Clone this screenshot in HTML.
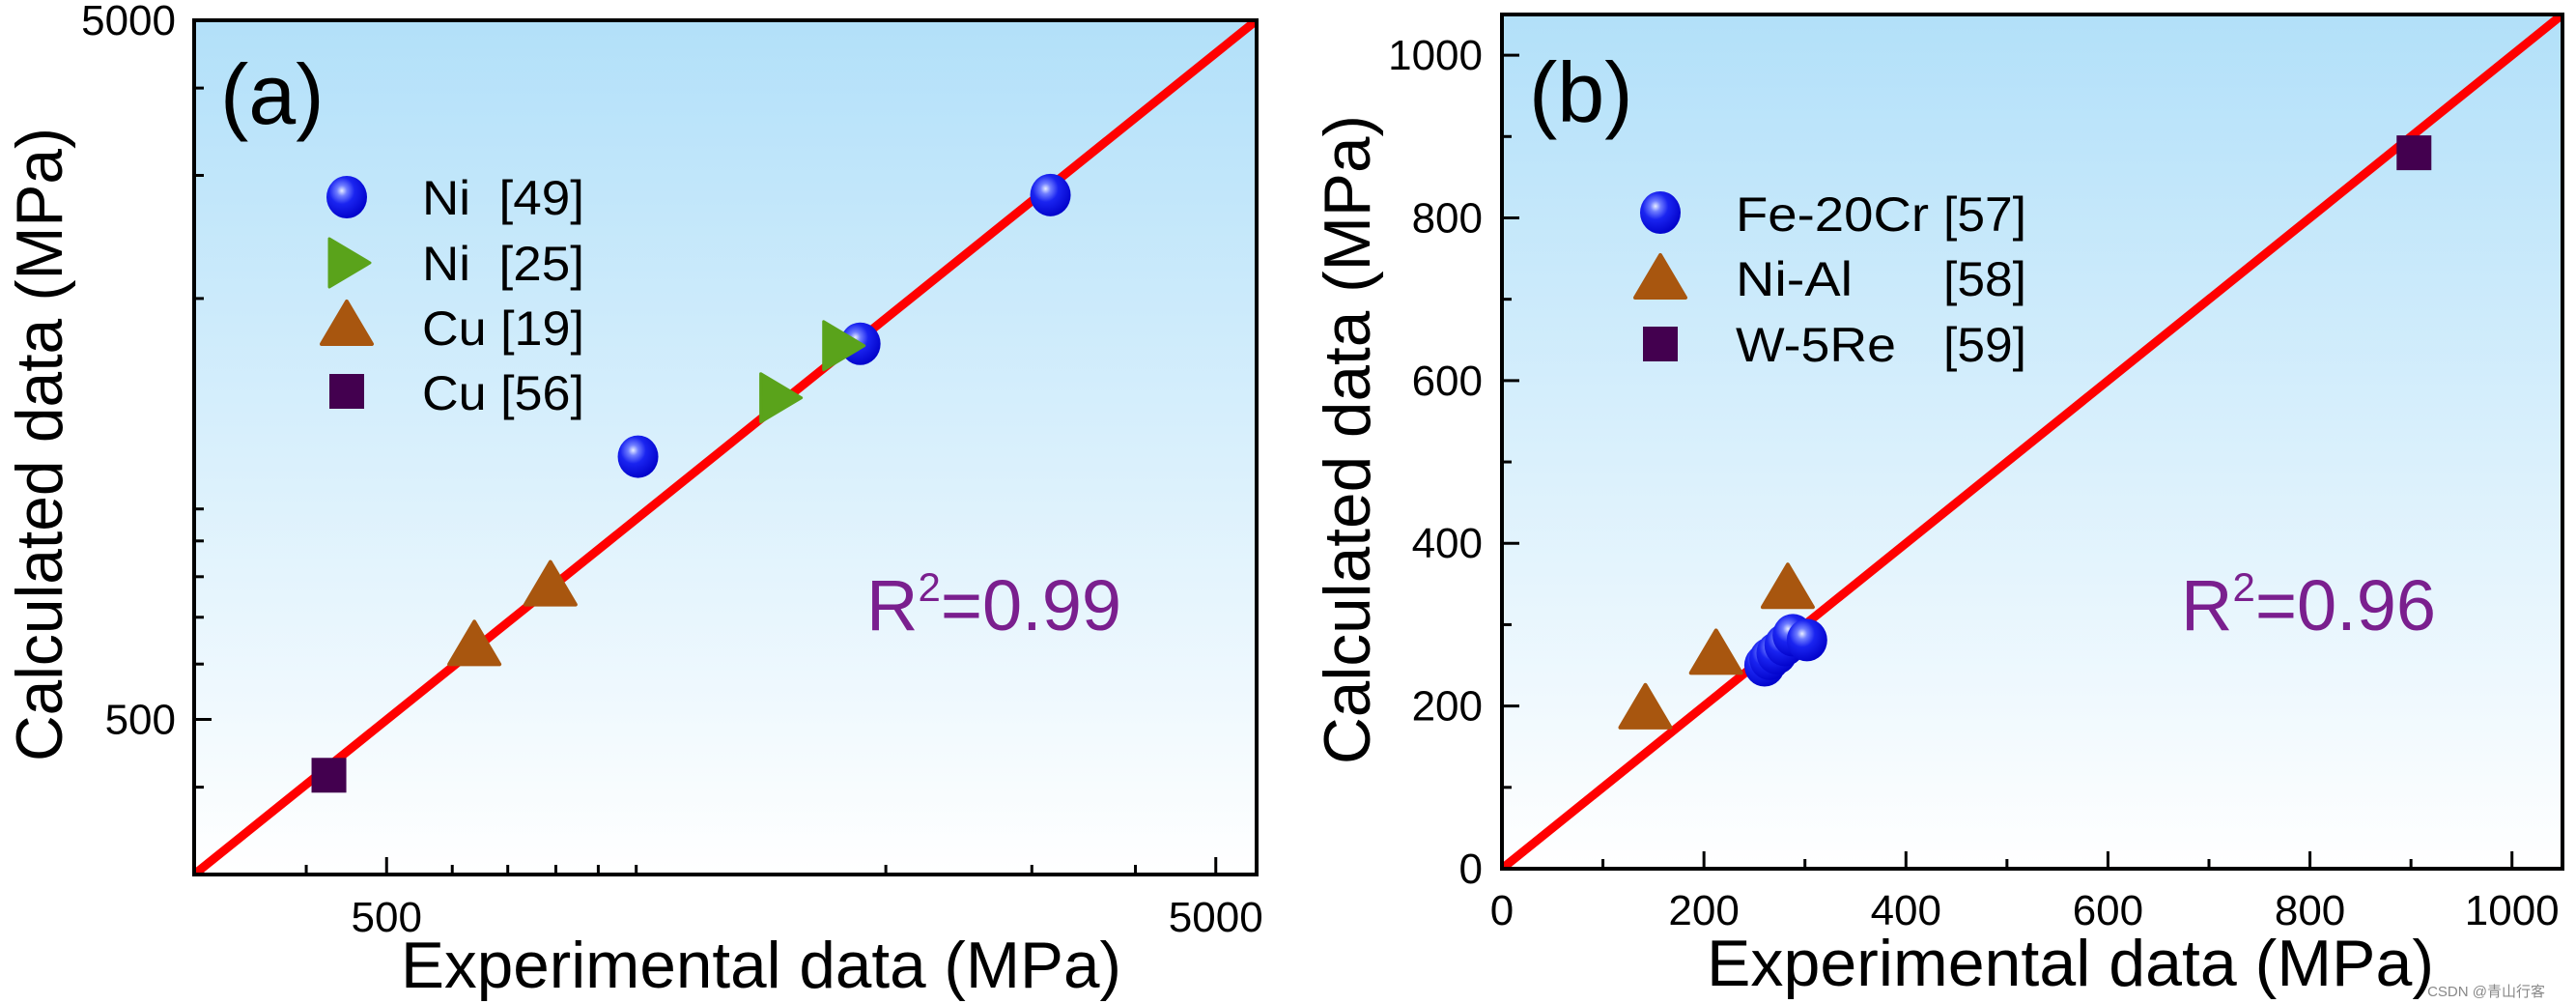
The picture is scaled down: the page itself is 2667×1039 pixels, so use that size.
<!DOCTYPE html>
<html><head><meta charset="utf-8"><style>
html,body{margin:0;padding:0;background:#fff;}
svg{display:block;font-family:"Liberation Sans",Arial,sans-serif;}
text{white-space:pre;}
</style></head><body>
<svg id="fig" width="2667" height="1039" viewBox="0 0 2667 1039" xmlns="http://www.w3.org/2000/svg">
<defs>
<linearGradient id="bg" x1="0" y1="0" x2="0" y2="1">
<stop offset="0" stop-color="#b2e0f9"/><stop offset="1" stop-color="#ffffff"/>
</linearGradient>
<radialGradient id="sph" cx="0.38" cy="0.35" r="0.7">
<stop offset="0" stop-color="#e8eeff"/><stop offset="0.18" stop-color="#6f7dff"/><stop offset="0.45" stop-color="#1a24f0"/><stop offset="1" stop-color="#0000c8"/>
</radialGradient>
<clipPath id="clipA"><rect x="201" y="21" width="1100" height="884"/></clipPath>
<clipPath id="clipB"><rect x="1555" y="15" width="1098" height="884"/></clipPath>
</defs>
<g id="panelA"></g>
<g id="panelB"></g>
<text x="2635" y="1031" font-size="15" fill="#888" text-anchor="end" font-family="Liberation Sans, Noto Sans CJK SC, sans-serif">CSDN @青山行客</text>
</svg>
<script>
// Panel (a) data - log-log
const aXDomain = [293, 5600];
const aYDomain = [300, 5000];
const aXTicks = [500, 5000];
const aXTickLabels = ["500", "5000"];
const aYTicks = [500, 5000];
const aYTickLabels = ["500", "5000"];
const aNi49X = [1005, 1863, 3159];
const aNi49Y = [1188, 1723, 2812];
const aNi25X = [1483, 1766];
const aNi25Y = [1442, 1712];
const aCu19X = [638, 788];
const aCu19Y = [635, 773];
const aCu56X = [426];
const aCu56Y = [416];
const aFitX = [293, 5600];
const aFitY = [300, 5000];
const aR2 = "0.99";
// Panel (b) data - linear
const bXDomain = [0, 1050];
const bYDomain = [0, 1050];
const bXTicks = [0, 200, 400, 600, 800, 1000];
const bYTicks = [0, 200, 400, 600, 800, 1000];
const bFeX = [260, 265, 272, 280, 288, 302];
const bFeY = [250, 258, 265, 275, 287, 281];
const bNiAlX = [142, 212, 283];
const bNiAlY = [195, 262, 343];
const bWX = [903];
const bWY = [880];
const bFitX = [0, 1050];
const bFitY = [0, 1050];
const bR2 = "0.96";

const NS = "http://www.w3.org/2000/svg";
function mk(parent, tag, attrs, txt) {
  const e = document.createElementNS(NS, tag);
  for (const k in attrs) e.setAttribute(k, attrs[k]);
  if (txt !== undefined) e.textContent = txt;
  parent.appendChild(e);
  return e;
}
function logScale(d, r) { const a = Math.log10(d[0]), b = Math.log10(d[1]); return v => r[0] + (Math.log10(v) - a) / (b - a) * (r[1] - r[0]); }
function linScale(d, r) { return v => r[0] + (v - d[0]) / (d[1] - d[0]) * (r[1] - r[0]); }

function sphere(g, x, y, name) {
  const c = mk(g, "ellipse", {cx: x, cy: y, rx: 21, ry: 22, fill: "url(#sph)"});
  
  
}
function tri(g, x, y, name) {
  const p = mk(g, "path", {d: `M${x} ${y-26} L${x+26} ${y+18} L${x-26} ${y+18} Z`, fill: "#a8560f", stroke: "#a8560f", "stroke-width": 4, "stroke-linejoin": "round"});
  
  
}
function rtri(g, x, y, name) {
  const p = mk(g, "path", {d: `M${x-18} ${y-25} L${x+24} ${y} L${x-18} ${y+25} Z`, fill: "#5aa31b", stroke: "#5aa31b", "stroke-width": 3, "stroke-linejoin": "round"});
  
  
}
function sq(g, x, y, name) {
  const r = mk(g, "rect", {x: x-18, y: y-18, width: 36, height: 36, fill: "#43004f"});
  
  
}

// ---------- Panel A ----------
(function () {
  const g = document.getElementById("panelA");
  const L = 201, R = 1301, T = 21, B = 905;
  const sx = logScale(aXDomain, [L, R]), sy = logScale(aYDomain, [B, T]);
  const bg = mk(g, "rect", {x: L, y: T, width: R-L, height: B-T, fill: "url(#bg)"});
  
  
  const ticks = mk(g, "g", {stroke: "#000", "stroke-width": 3});
  
  
  for (let dec = 100; dec <= 10000; dec *= 10) {
    for (let m = 1; m <= 9; m++) {
      const v = dec * m;
      if (v >= aXDomain[0] && v <= aXDomain[1]) {
        const major = aXTicks.includes(v);
        const x = sx(v);
        mk(ticks, "line", {x1: x, y1: B, x2: x, y2: B - (major ? 18 : 10)});
      }
      if (v >= aYDomain[0] && v <= aYDomain[1]) {
        const major = aYTicks.includes(v);
        const y = sy(v);
        mk(ticks, "line", {x1: L, y1: y, x2: L + (major ? 18 : 10), y2: y});
      }
    }
  }
  aXTicks.forEach((v, i) => {
    const t = mk(g, "text", {x: sx(v), y: 964, "font-size": 44, "text-anchor": "middle"}, aXTickLabels[i]);
    
    
  });
  aYTicks.forEach((v, i) => {
    const t = mk(g, "text", {x: 182, y: sy(v) + 15, "font-size": 44, "text-anchor": "end"}, aYTickLabels[i]);
    
    
  });
  const clip = mk(g, "g", {"clip-path": "url(#clipA)"});
  const fit = mk(clip, "line", {x1: sx(aFitX[0]), y1: sy(aFitY[0]), x2: sx(aFitX[1]), y2: sy(aFitY[1]), stroke: "#f00", "stroke-width": 9});
  
  
  aCu56X.forEach((v, i) => sq(clip, sx(v), sy(aCu56Y[i]), 'point-cu56'));
  aCu19X.forEach((v, i) => tri(clip, sx(v), sy(aCu19Y[i]), 'point-cu19'));
  aNi49X.forEach((v, i) => sphere(clip, sx(v), sy(aNi49Y[i]), 'point-ni49'));
  aNi25X.forEach((v, i) => rtri(clip, sx(v), sy(aNi25Y[i]), 'point-ni25'));
  const fr = mk(g, "rect", {x: L, y: T, width: R-L, height: B-T, fill: "none", stroke: "#000", "stroke-width": 4});
  
  
  const lg = mk(g, "g", {});
  
  
  sphere(lg, 359, 204, 'legend-marker-ni49');
  rtri(lg, 359, 272, 'legend-marker-ni25');
  tri(lg, 359, 338, 'legend-marker-cu19');
  sq(lg, 359, 405, 'legend-marker-cu56');
  [["Ni  [49]", 222], ["Ni  [25]", 290], ["Cu [19]", 357], ["Cu [56]", 424]].forEach(a => {
    const t = mk(lg, "text", {x: 437, y: a[1], "font-size": 50, textLength: 168, lengthAdjust: "spacingAndGlyphs"}, a[0]);
    
    
  });
  const pl = mk(g, "text", {x: 228, y: 128, "font-size": 88}, "(a)");
  
  
  const r2 = mk(g, "text", {x: 897, y: 652, "font-size": 74, fill: "#7a1f8e"});
  
  
  mk(r2, "tspan", {}, "R");
  mk(r2, "tspan", {dy: -30, "font-size": 42}, "2");
  mk(r2, "tspan", {dy: 30}, "=" + aR2);
  const xt = mk(g, "text", {x: 415, y: 1022, "font-size": 68, textLength: 746, lengthAdjust: "spacingAndGlyphs"}, "Experimental data (MPa)");
  
  
  const yt = mk(g, "text", {x: 0, y: 0, "font-size": 68, "text-anchor": "middle", textLength: 656, lengthAdjust: "spacingAndGlyphs", transform: "translate(64,460) rotate(-90)"}, "Calculated data (MPa)");
  
  
})();

// ---------- Panel B ----------
(function () {
  const g = document.getElementById("panelB");
  const L = 1555, R = 2653, T = 15, B = 899;
  const sx = linScale(bXDomain, [L, R]), sy = linScale(bYDomain, [B, T]);
  const bg = mk(g, "rect", {x: L, y: T, width: R-L, height: B-T, fill: "url(#bg)"});
  
  
  const ticks = mk(g, "g", {stroke: "#000", "stroke-width": 3});
  
  
  for (let v = 0; v <= 1000; v += 100) {
    const major = v % 200 === 0;
    mk(ticks, "line", {x1: sx(v), y1: B, x2: sx(v), y2: B - (major ? 18 : 10)});
    mk(ticks, "line", {x1: L, y1: sy(v), x2: L + (major ? 18 : 10), y2: sy(v)});
  }
  bXTicks.forEach(v => {
    const t = mk(g, "text", {x: sx(v), y: 957, "font-size": 44, "text-anchor": "middle"}, String(v));
    
    
  });
  bYTicks.forEach(v => {
    const t = mk(g, "text", {x: 1535, y: sy(v) + 15, "font-size": 44, "text-anchor": "end"}, String(v));
    
    
  });
  const clip = mk(g, "g", {"clip-path": "url(#clipB)"});
  const fit = mk(clip, "line", {x1: sx(bFitX[0]), y1: sy(bFitY[0]), x2: sx(bFitX[1]), y2: sy(bFitY[1]), stroke: "#f00", "stroke-width": 9});
  
  
  bWX.forEach((v, i) => sq(clip, sx(v), sy(bWY[i]), 'point-w5re'));
  bNiAlX.forEach((v, i) => tri(clip, sx(v), sy(bNiAlY[i]), 'point-nial'));
  bFeX.forEach((v, i) => sphere(clip, sx(v), sy(bFeY[i]), 'point-fe20cr'));
  const fr = mk(g, "rect", {x: L, y: T, width: R-L, height: B-T, fill: "none", stroke: "#000", "stroke-width": 4});
  
  
  const lg = mk(g, "g", {});
  
  
  sphere(lg, 1719, 220, 'legend-marker-fe20cr');
  tri(lg, 1719, 290, 'legend-marker-nial');
  sq(lg, 1719, 356, 'legend-marker-w5re');
  [["Fe-20Cr", 239, "[57]", 200], ["Ni-Al", 306, "[58]", 121], ["W-5Re", 374, "[59]", 166]].forEach(a => {
    const t = mk(lg, "text", {x: 1797, y: a[1], "font-size": 50, textLength: a[3], lengthAdjust: "spacingAndGlyphs"}, a[0]);
    
    
    const r = mk(lg, "text", {x: 2012, y: a[1], "font-size": 50, textLength: 86, lengthAdjust: "spacingAndGlyphs"}, a[2]);
    
    
  });
  const pl = mk(g, "text", {x: 1583, y: 126, "font-size": 88}, "(b)");
  
  
  const r2 = mk(g, "text", {x: 2258, y: 652, "font-size": 74, fill: "#7a1f8e"});
  
  
  mk(r2, "tspan", {}, "R");
  mk(r2, "tspan", {dy: -30, "font-size": 42}, "2");
  mk(r2, "tspan", {dy: 30}, "=" + bR2);
  const xt = mk(g, "text", {x: 1767, y: 1020, "font-size": 68, textLength: 753, lengthAdjust: "spacingAndGlyphs"}, "Experimental data (MPa)");
  
  
  const yt = mk(g, "text", {x: 0, y: 0, "font-size": 68, "text-anchor": "middle", textLength: 672, lengthAdjust: "spacingAndGlyphs", transform: "translate(1418,455) rotate(-90)"}, "Calculated data (MPa)");
  
  
})();
</script>
</body></html>
